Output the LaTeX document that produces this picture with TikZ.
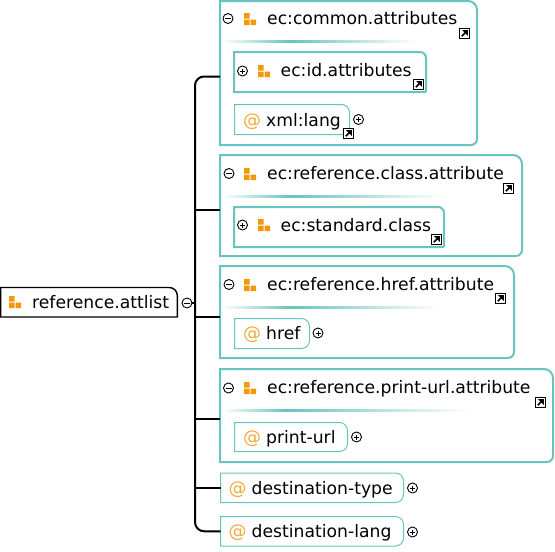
\documentclass[tikz,border=0pt]{standalone}
\usepackage{fontspec}
\setmainfont{DejaVu Sans}
\definecolor{teal1}{RGB}{104,196,190}
\definecolor{orng}{RGB}{243,152,10}
\definecolor{orat}{RGB}{245,170,60}
\tikzset{
  x=1pt,y=-1pt,
  conn/.style={draw=black,line width=2pt},
  lbl/.style={anchor=base west,inner sep=0pt,font=\fontsize{17.2}{18}\selectfont,text=black},
  atmark/.style={anchor=base west,inner sep=0pt,font=\fontsize{18}{18}\selectfont,text=orat},
  hold/.style={anchor=north west,inner sep=0pt,outer sep=0pt},
  togg/.style={circle,draw=black,line width=0.9pt,fill=white,inner sep=0pt,minimum size=10pt},
  grpline/.style={draw=teal1,line width=2pt},
  attline/.style={draw=teal1,line width=1pt},
  rootline/.style={draw=black,line width=1.4pt},
}
% rounded box: style, name, x1, y1, x2, y2, radius top, radius bottom
\newcommand\bx[8]{%
  \node[hold,minimum width=#5pt-#3pt,minimum height=#6pt-#4pt] (#2) at (#3,#4) {};
  \draw[#1] (#2.south west) -- (#2.north west)
    -- ([xshift=-#7pt]#2.north east) to[out=0,in=90] ([yshift=-#7pt]#2.north east)
    -- ([yshift=#8pt]#2.south east) to[out=-90,in=0] ([xshift=-#8pt]#2.south east) -- cycle;
}
\newcommand\tree[2]{% three orange squares at x,y
  \fill[orng] (#1,#2) rectangle ++(5.5,5.5) (#1,#2+6.5) rectangle ++(5.5,5.5) (#1+6.5,#2+6.5) rectangle ++(5.5,5.5);
}
\newcommand\tmin[3]{\node[togg] (#1) at (#2,#3) {}; \draw[line width=0.9pt] (#2-3,#3) -- (#2+3,#3);}
\newcommand\tplu[3]{\node[togg] (#1) at (#2,#3) {}; \draw[line width=0.9pt] (#2-2.5,#3) -- (#2+2.5,#3) (#2,#3-2.5) -- (#2,#3+2.5);}
\newcommand\lnk[2]{% link icon top-left
  \fill[white] (#1,#2) rectangle ++(11,11);
  \draw[black,line width=1pt] (#1+.5,#2+.5) rectangle ++(10,10);
  \draw[black,line width=1.7pt] (#1+2.8,#2+8.2) -- (#1+6.5,#2+4.5);
  \fill[black] (#1+3.2,#2+2.2) -- (#1+8.8,#2+2.2) -- (#1+8.8,#2+7.8) -- cycle;
}
\newcommand\sep[4]{% x1, peak x, x2, y
  \shade[left color=white,right color=teal1] (#1,#4-1) rectangle (#2,#4+1);
  \shade[left color=teal1,right color=white] (#2,#4-1) rectangle (#3,#4+1);
}
\begin{document}
\begin{tikzpicture}
\useasboundingbox (0,0) rectangle (555,552);
% groups
\bx{grpline}{common}{220}{1}{477}{145}{9}{6}
\bx{grpline}{klass}{220}{155}{522}{256}{9}{6}
\bx{grpline}{hrefg}{220}{266}{514}{358}{9}{6}
\bx{grpline}{printg}{220}{369}{553}{462}{9}{6}
\bx{grpline}{idattr}{234}{52}{426}{92}{6}{1}
\bx{grpline}{stdcl}{234}{207}{444}{247}{6}{1}
% attributes
\bx{attline}{xmll}{234.5}{104.5}{349.5}{134.5}{8}{8}
\bx{attline}{hrefa}{234.5}{318.5}{309.5}{348.5}{8}{8}
\bx{attline}{printa}{234.5}{422.5}{347.5}{451.5}{8}{8}
\bx{attline}{dtype}{220.5}{473}{403.5}{502.5}{8}{8}
\bx{attline}{dlang}{220.5}{516.5}{403.5}{546}{8}{8}
\bx{rootline}{root}{0.7}{287.5}{177.3}{317}{8}{0.1}
% separators
\sep{222}{290}{415}{41}
\sep{222}{290}{445}{196}
\sep{222}{290}{440}{307}
\sep{222}{285}{470}{410}
% connectors
\coordinate (junc) at (195,303);
\coordinate (c1) at ([yshift=-3.5pt]common.west);
\coordinate (c2) at ([yshift=-4.5pt]klass.west);
\coordinate (c3) at ([yshift=-4.5pt]hrefg.west);
\coordinate (c4) at ([yshift=-3.5pt]printg.west);
\tmin{rootm}{187}{303}
\draw[conn,line width=1.5pt] (rootm) -- (junc);
\draw[conn,rounded corners=9pt] (c1) -| (junc) |- (dlang.west);
\draw[conn] (c2) -- (c2 -| junc);
\draw[conn] (c3) -- (c3 -| junc);
\draw[conn] (c4) -- (c4 -| junc);
\draw[conn] (dtype.west) -- (dtype.west -| junc);
% root
\tree{9}{296}
\node[lbl] (roott) at (32,308) {reference.attlist};
% common
\tmin{m1}{228}{18.5}
\tree{244}{13}
\node[lbl] (t1) at (267,24) {ec:common.attributes};
\lnk{459}{28}
\tplu{p1}{242.5}{71}
\tree{258}{65}
\node[lbl] (t2) at (280.5,76) {ec:id.attributes};
\lnk{413}{79}
\node[atmark] (a1) at (243,126) {@};
\node[lbl] (t3) at (266,126) {xml:lang};
\lnk{343}{128}
\tplu{p2}{358.5}{119.5}
% class
\tmin{m2}{229}{173.5}
\tree{244}{168}
\node[lbl] (t4) at (267,179) {ec:reference.class.attribute};
\lnk{503}{183}
\tplu{p3}{242.5}{225}
\tree{258}{219}
\node[lbl] (t5) at (280.5,231) {ec:standard.class};
\lnk{431}{234}
% href
\tmin{m3}{229}{284.5}
\tree{244}{279}
\node[lbl] (t6) at (267,290) {ec:reference.href.attribute};
\lnk{495}{293}
\node[atmark] (a2) at (243,339) {@};
\node[lbl] (t7) at (266,339) {href};
\tplu{p4}{318}{333}
% print
\tmin{m4}{228.5}{388}
\tree{244}{382}
\node[lbl] (t8) at (267,393) {ec:reference.print-url.attribute};
\lnk{535}{397}
\node[atmark] (a3) at (243,443) {@};
\node[lbl] (t9) at (266,443) {print-url};
\tplu{p5}{356.5}{437}
% destinations
\node[atmark] (a4) at (228.5,494) {@};
\node[lbl] (t10) at (251.5,494) {destination-type};
\tplu{p6}{412.5}{488}
\node[atmark] (a5) at (228.5,537) {@};
\node[lbl] (t11) at (251.5,537) {destination-lang};
\tplu{p7}{412.5}{532}
\end{tikzpicture}
\end{document}
